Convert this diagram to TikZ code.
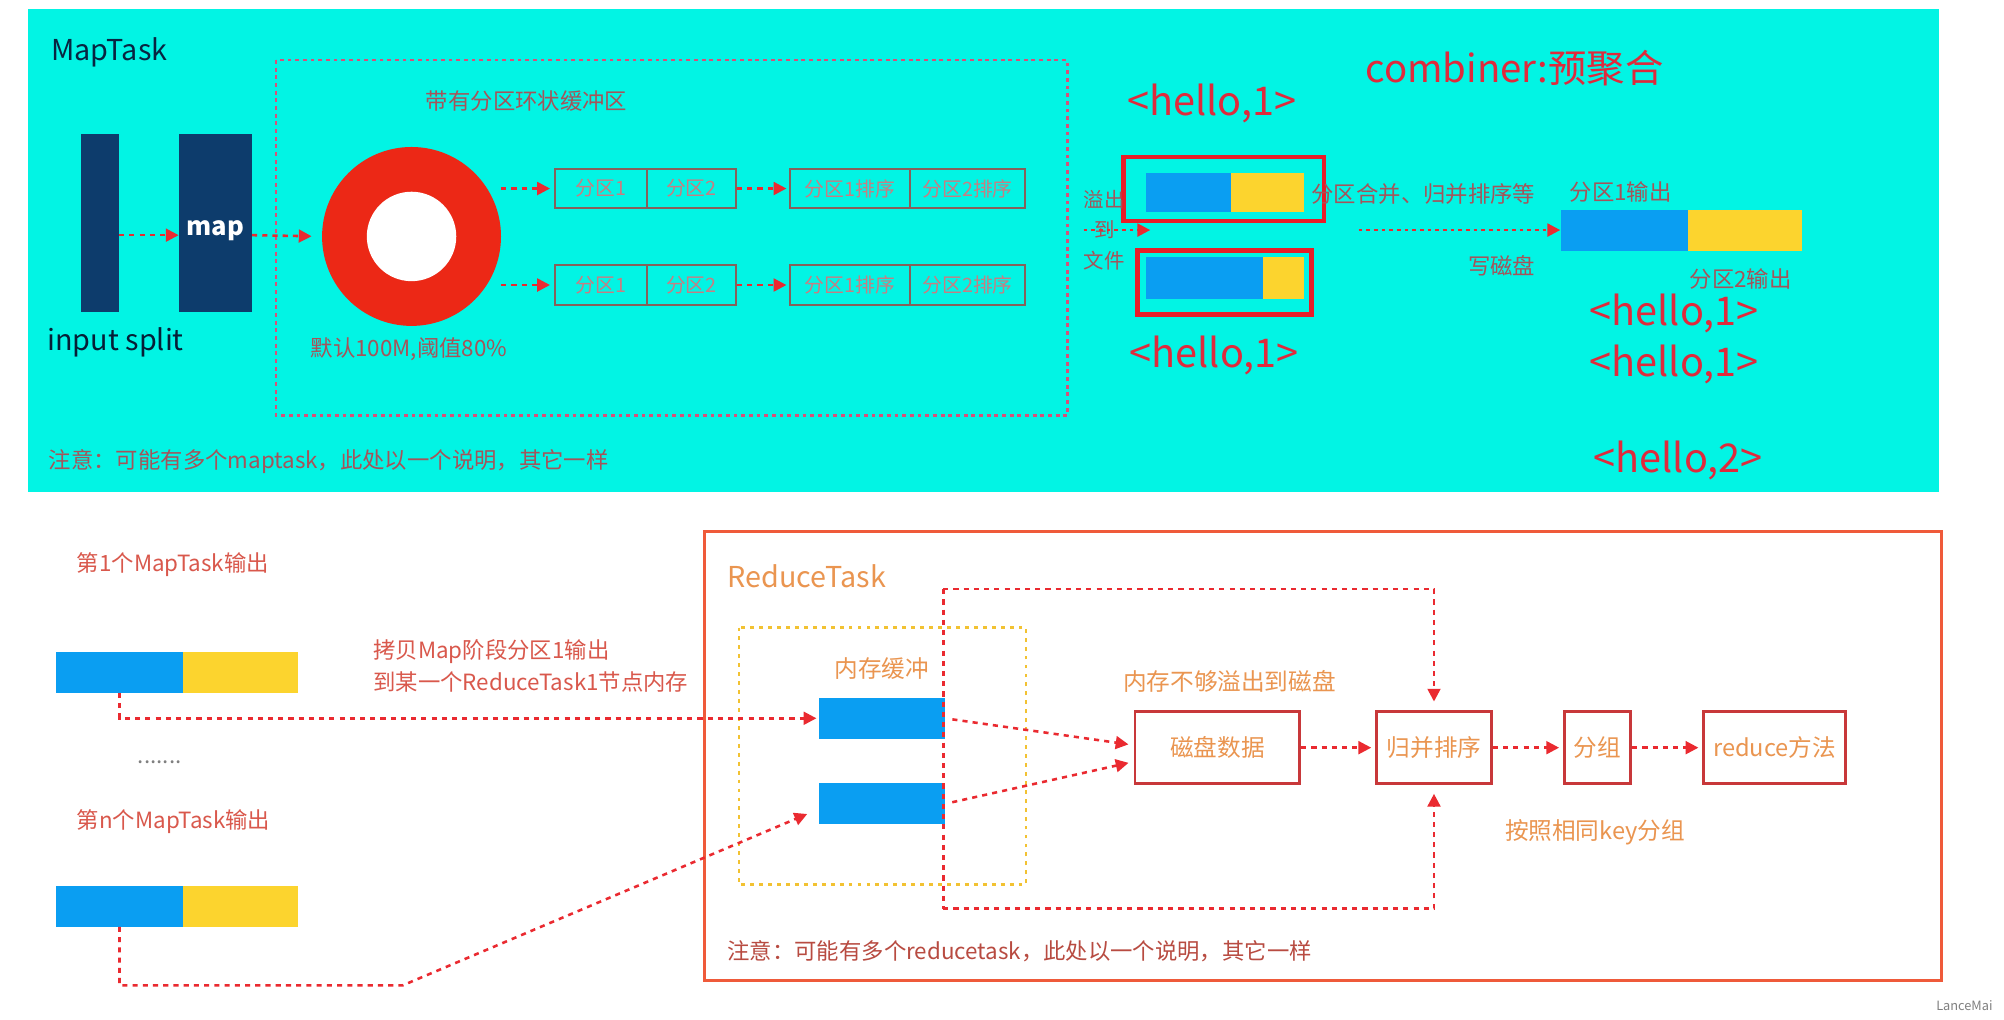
\documentclass[tikz,border=0pt]{standalone}
\usepackage{fontspec}
\setmainfont{Noto Sans CJK SC}
\usetikzlibrary{positioning,arrows.meta,calc}
\definecolor{aqua}{HTML}{02F4E4}
\definecolor{navy}{HTML}{0D3C6C}
\definecolor{ringred}{HTML}{EC2816}
\definecolor{flowred}{HTML}{EA2A30}
\definecolor{dimred}{HTML}{A5545A}
\definecolor{paletxt}{HTML}{C77E82}
\definecolor{partline}{HTML}{86605A}
\definecolor{bufline}{HTML}{D8507A}
\definecolor{kvred}{HTML}{DF2A3C}
\definecolor{blk}{HTML}{0A9EF2}
\definecolor{ylw}{HTML}{FCD42E}
\definecolor{spillred}{HTML}{E81E28}
\definecolor{salmon}{HTML}{D9584C}
\definecolor{rtline}{HTML}{EF5A3A}
\definecolor{amber}{HTML}{EA9550}
\definecolor{memline}{HTML}{F2C232}
\definecolor{procline}{HTML}{C8383A}
\newcommand{\fs}[1]{\fontsize{#1}{#1}\selectfont}
\tikzset{
  lbl/.style={inner sep=0pt, font=\fs{17.5}},
  biglbl/.style={inner sep=0pt, font=\fs{22.5}},
  kv/.style={inner sep=0pt, font=\fs{31}, text=kvred},
  splitblk/.style={fill=navy, minimum width=30pt, minimum height=139pt, inner sep=0pt},
  part/.style={draw=partline, line width=1.3pt, minimum height=31pt, inner sep=0pt, text=paletxt, font=\fs{15.5}},
  flow/.style={flowred, line width=2pt, dash pattern=on 4pt off 4pt, -{Triangle[length=10pt,width=10pt]}},
  dotline/.style={flowred, line width=2pt, dash pattern=on 4pt off 4pt},
  bluebar/.style={fill=blk, minimum height=32pt, inner sep=0pt},
  ylwbar/.style={fill=ylw, minimum height=32pt, inner sep=0pt},
  spillbox/.style={draw=spillred, line width=3.5pt, minimum height=50pt, inner sep=0pt},
  proc/.style={draw=procline, line width=2.2pt, minimum height=56pt, inner sep=0pt, text=amber, font=\fs{18.5}},
}

\begin{document}
\begin{tikzpicture}[x=1pt,y=-1pt]
\useasboundingbox (0,0) rectangle (1568,798);
\fill[white] (0,0) rectangle (1568,798);
% map side
\fill[aqua] (22,7) rectangle (1517,385);
\node[biglbl, text=navy!60!black, anchor=west] (maptask) at (40,41) {MapTask};
\node[splitblk] (input) at (78,174.5) {};
\node[splitblk, minimum width=57pt] (map) at (168.5,174.5) {};
\node[inner sep=0pt, text=white, font=\fs{20}\bfseries] (maplbl) at ([yshift=-6pt]map.center) {map};
\node[biglbl, text=navy!50!black, anchor=west] (inputlbl) at (37,268) {input split};
\draw[bufline, line width=2.2pt, dash pattern=on 3pt off 3pt] (216,47) rectangle (835,325);
\node[lbl, text=dimred] (buflbl) at (412,79) {带有分区环状缓冲区};
\node[circle, fill=ringred, minimum size=140pt, inner sep=0pt] (ring) at (322,185) {};
\fill[white] (ring.center) circle (35);
\node[lbl, text=dimred] (ringlbl) at (320,273) {默认100M,阈值80\%};
\draw[flow] ([yshift=-9.5pt]input.east) -- ([yshift=-9.5pt]map.west);
\draw[flow, shorten >=8pt] ([yshift=-9.5pt]map.east) -- (ring.west);

% partitions
\node[part, minimum width=72pt] (p1a) at (470,147.5) {分区1};
\node[part, minimum width=70pt] (p1b) at (541,147.5) {分区2};
\node[part, minimum width=94pt] (s1a) at (665,147.5) {分区1排序};
\node[part, minimum width=90pt] (s1b) at (757,147.5) {分区2排序};
\node[part, minimum width=72pt] (p2a) at (470,223) {分区1};
\node[part, minimum width=70pt] (p2b) at (541,223) {分区2};
\node[part, minimum width=94pt] (s2a) at (665,223) {分区1排序};
\node[part, minimum width=90pt] (s2b) at (757,223) {分区2排序};
\draw[flow, shorten >=3pt] (ring.east |- p1a) -- (p1a);
\draw[flow, shorten >=3pt] (ring.east |- p2a) -- (p2a);
\draw[flow, shorten >=2pt] (p1b) -- (s1a);
\draw[flow, shorten >=2pt] (p2b) -- (s2a);

% spill and combine
\node[kv, font=\fs{30}] (combiner) at (1185,53) {combiner:预聚合};
\node[kv] (kv1) at (948,81) {<hello,1>};
\node[spillbox, minimum width=157pt] (sp1) at (957.5,148) {};
\node[bluebar, minimum width=66pt, minimum height=31pt] (sp1b) at (930,150.5) {};
\node[ylwbar, minimum width=57pt, minimum height=31pt] (sp1y) at (991.5,150.5) {};
\node[spillbox, minimum width=136pt] (sp2) at (958,221) {};
\node[bluebar, minimum width=91pt, minimum height=33pt] (sp2b) at (942.5,217.5) {};
\node[ylwbar, minimum width=32pt, minimum height=33pt] (sp2y) at (1004,217.5) {};
\node[kv] (kv2) at (950,278) {<hello,1>};
\node[lbl, text=dimred, font=\fs{16}, align=center] (spilllbl) at (864,180) {溢出\\[8pt]到\\[8pt]文件};
\coordinate (spillend) at (900,180);
\draw[flow, dash pattern=on 3pt off 3pt] (spilllbl.west) -- (spillend);
\node[lbl, text=dimred, anchor=west] (mergelbl) at (1026,152) {分区合并、归并排序等};
\coordinate (diskstart) at (1063,180);
\node[bluebar, minimum width=100pt] (outb) at (1271,180) {};
\node[ylwbar, minimum width=89pt] (outy) at (1365.5,180) {};
\draw[flow, dash pattern=on 3pt off 3pt] (diskstart) -- (outb.west);
\node[lbl, text=dimred] (disklbl) at (1175,208) {写磁盘};
\node[lbl, text=dimred] (out1lbl) at (1268,150) {分区1输出};
\node[lbl, text=dimred] (out2lbl) at (1362,218) {分区2输出};
\node[kv] (kv3) at (1310,245) {<hello,1>};
\node[kv] (kv4) at (1310,285) {<hello,1>};
\node[kv] (kv5) at (1313,360) {<hello,2>};
\node[lbl, text=dimred, anchor=west] (mapnote) at (38,361) {注意：可能有多个maptask，此处以一个说明，其它一样};

% reduce side
\node[lbl, text=salmon, anchor=west] (m1lbl) at (60,442) {第1个MapTask输出};
\node[bluebar, minimum width=99pt] (m1b) at (93.5,526) {};
\node[ylwbar, minimum width=90pt] (m1y) at (188,526) {};
\node[lbl, text=salmon, anchor=west, align=left] (copylbl) at (292,521) {拷贝Map阶段分区1输出\\[5pt]到某一个ReduceTask1节点内存};
\node[lbl, text=gray] (dots) at (125,596) {.......};
\node[lbl, text=salmon, anchor=west] (mnlbl) at (60,643) {第n个MapTask输出};
\node[bluebar, minimum width=99pt] (mnb) at (93.5,709) {};
\node[ylwbar, minimum width=90pt] (mny) at (188,709) {};
\draw[rtline, line width=2.5pt] (551,416) rectangle (1519,767);
\node[biglbl, text=amber, anchor=west] (rtlbl) at (569,451) {ReduceTask};
\draw[memline, line width=1.8pt, dash pattern=on 3pt off 4pt] (578,491) rectangle (803,692);
\node[lbl, text=amber, font=\fs{18.5}] (memlbl) at (690,523) {内存缓冲};
\node[bluebar, minimum width=98pt] (mem1) at (690,562) {};
\node[bluebar, minimum width=98pt] (mem2) at (690,629) {};
\node[lbl, text=amber, font=\fs{18.5}] (overlbl) at (962,533) {内存不够溢出到磁盘};
\node[proc, minimum width=129pt] (disk) at (952.5,585) {磁盘数据};
\node[proc, minimum width=90pt] (merge) at (1122,585) {归并排序};
\node[proc, minimum width=52pt] (group) at (1250,585) {分组};
\node[proc, minimum width=111pt] (reduce) at (1388.5,585) {reduce方法};
\node[lbl, text=amber, font=\fs{18.5}] (grouplbl) at (1248,651) {按照相同key分组};
\node[lbl, text=salmon!85!black, anchor=west] (rednote) at (569,744) {注意：可能有多个reducetask，此处以一个说明，其它一样};
\node[inner sep=0pt, text=gray, font=\fs{10}] (mark) at (1537,787) {LanceMai};

\coordinate (loopTL) at (738,461);
\coordinate (loopBL) at (738,711);
\coordinate (bend) at (315,771);
\draw[flow, shorten >=2pt] (m1b.south) |- (mem1.west);
\draw[flow, shorten >=10pt] (mnb.south) |- (bend) -- ([yshift=-4pt]mem2.west);
\draw[flow, shorten <=6pt, shorten >=4pt] (mem1.east) -- ([yshift=2pt]disk.west);
\draw[flow, shorten <=6pt, shorten >=4pt] (mem2.east) -- ([yshift=-11pt]disk.west);
\draw[dotline] (loopTL) -- (loopBL);
\draw[flow, shorten >=7pt] (loopTL) -| (merge.north);
\draw[flow, shorten >=7pt] (loopBL) -| (merge.south);
\draw[flow, shorten >=3pt] (disk) -- (merge);
\draw[flow, shorten >=3pt] (merge) -- (group);
\draw[flow, shorten >=3pt] (group) -- (reduce);
\end{tikzpicture}
\end{document}
